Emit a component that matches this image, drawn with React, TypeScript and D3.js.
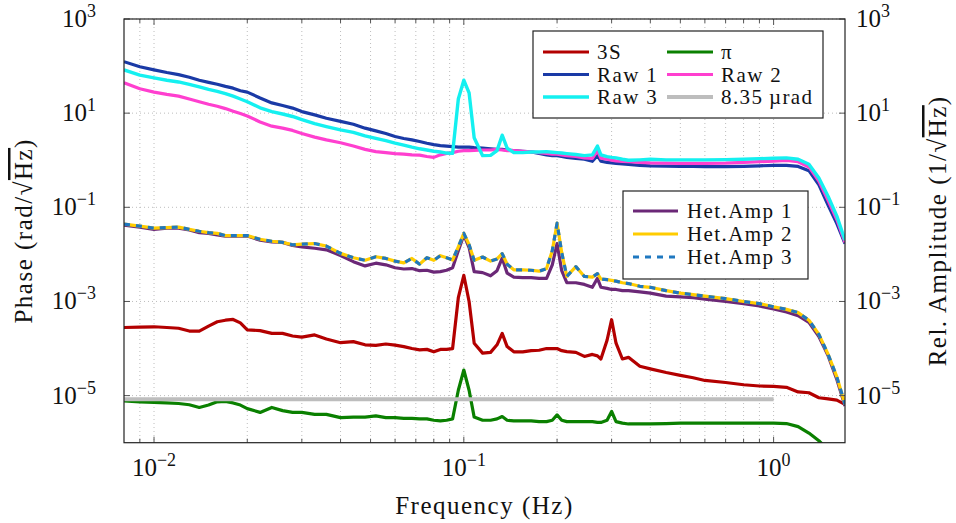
import React from 'react';
import * as d3 from 'd3';

// ---------- data ----------
const freq = [
  0.008, 0.009, 0.01, 0.011, 0.012, 0.013, 0.014, 0.015, 0.016, 0.017,
  0.018, 0.019, 0.02, 0.022, 0.024, 0.026, 0.028, 0.03, 0.033, 0.036,
  0.04, 0.044, 0.048, 0.052, 0.056, 0.06, 0.064, 0.068, 0.072, 0.076,
  0.08, 0.084, 0.088, 0.092, 0.096, 0.1, 0.104, 0.108, 0.115, 0.122,
  0.128, 0.133, 0.138, 0.145, 0.155, 0.165, 0.175, 0.185, 0.193, 0.2,
  0.207, 0.215, 0.23, 0.245, 0.26, 0.27, 0.277, 0.29, 0.3, 0.31,
  0.325, 0.34, 0.37, 0.4, 0.45, 0.5, 0.55, 0.6, 0.7, 0.8,
  0.9, 1.0, 1.1, 1.2, 1.3, 1.4, 1.5, 1.6, 1.7,
];

const s3S = [
  2.8e-4, 2.85e-4, 2.9e-4, 2.8e-4, 2.7e-4, 2.35e-4, 2.35e-4, 3.0e-4, 3.7e-4, 4.0e-4,
  4.15e-4, 3.5e-4, 2.5e-4, 2.4e-4, 2.1e-4, 2.1e-4, 1.85e-4, 1.75e-4, 1.95e-4, 1.6e-4,
  1.33e-4, 1.4e-4, 1.2e-4, 1.17e-4, 1.25e-4, 1.18e-4, 1.1e-4, 1.0e-4, 9.4e-5, 9.6e-5,
  8.5e-5, 9.6e-5, 9.6e-5, 1.0e-4, 1.2e-3, 3.6e-3, 1.0e-3, 1.3e-4, 8.0e-5, 8.3e-5,
  1.2e-4, 2.1e-4, 1.1e-4, 8.5e-5, 8.5e-5, 9.0e-5, 9.2e-5, 1.0e-4, 1.0e-4, 1.0e-4,
  9.0e-5, 8.6e-5, 8.3e-5, 6.8e-5, 7.5e-5, 7.0e-5, 6.0e-5, 1.5e-4, 4.1e-4, 1.3e-4,
  6.0e-5, 6.5e-5, 4.2e-5, 3.7e-5, 3.1e-5, 2.7e-5, 2.4e-5, 2.1e-5, 1.9e-5, 1.7e-5,
  1.6e-5, 1.57e-5, 1.5e-5, 1.2e-5, 1.15e-5, 9.0e-6, 8.5e-6, 8.0e-6, 6.5e-6,
];

const sPi = [
  7.7e-6, 7.4e-6, 7.2e-6, 7.0e-6, 6.8e-6, 6.4e-6, 5.6e-6, 6.3e-6, 7.4e-6, 7.5e-6,
  7.0e-6, 6.3e-6, 5.3e-6, 4.4e-6, 5.6e-6, 4.8e-6, 4.4e-6, 4.4e-6, 4.0e-6, 4.0e-6,
  3.4e-6, 3.5e-6, 3.5e-6, 3.7e-6, 3.4e-6, 3.4e-6, 3.3e-6, 3.3e-6, 3.2e-6, 3.2e-6,
  3.0e-6, 2.9e-6, 3.0e-6, 3.2e-6, 1.3e-5, 3.5e-5, 1.3e-5, 3.5e-6, 3.0e-6, 3.0e-6,
  3.2e-6, 3.6e-6, 3.0e-6, 2.9e-6, 2.9e-6, 2.9e-6, 2.8e-6, 2.8e-6, 3.0e-6, 3.9e-6,
  3.0e-6, 2.8e-6, 2.8e-6, 2.8e-6, 2.8e-6, 2.7e-6, 2.7e-6, 3.0e-6, 4.6e-6, 2.8e-6,
  2.6e-6, 2.5e-6, 2.5e-6, 2.5e-6, 2.55e-6, 2.6e-6, 2.6e-6, 2.6e-6, 2.6e-6, 2.6e-6,
  2.6e-6, 2.6e-6, 2.55e-6, 2.2e-6, 1.6e-6, 1.1e-6, 7.0e-7, 4.0e-7, 2.5e-7,
];

const sRaw1 = [
  124, 97, 83, 73, 66, 58, 50, 45, 41, 37,
  34, 30, 28, 21, 16.5, 14.5, 12.8, 10.8, 9.2, 7.8,
  6.7, 5.8, 4.8, 4.2, 3.7, 3.2, 2.9, 2.7, 2.5, 2.3,
  2.15, 2.05, 2.0, 1.95, 1.9, 1.9, 1.9, 1.85, 1.8, 1.75,
  1.7, 1.7, 1.65, 1.6, 1.55, 1.5, 1.4, 1.3, 1.25, 1.25,
  1.2, 1.15, 1.1, 1.05, 0.95, 1.25, 0.95, 0.9, 0.88, 0.86,
  0.84, 0.82, 0.78, 0.76, 0.75, 0.74, 0.74, 0.73, 0.73, 0.74,
  0.76, 0.78, 0.78, 0.74, 0.6, 0.3, 0.11, 0.045, 0.017,
];

const sRaw2 = [
  44, 33, 28, 25, 23, 20, 17.5, 15.5, 14, 12.5,
  11, 9.8, 8.7, 6.5, 5.3, 4.8, 4.3, 3.7, 3.1, 2.7,
  2.35, 2.0, 1.7, 1.52, 1.45, 1.38, 1.35, 1.3, 1.28, 1.2,
  1.15, 1.3, 1.4, 1.45, 1.55, 1.6, 1.6, 1.62, 1.65, 1.65,
  1.7, 1.65, 1.6, 1.6, 1.55, 1.5, 1.45, 1.4, 1.35, 1.35,
  1.3, 1.25, 1.2, 1.12, 1.1, 1.6, 1.1, 1.05, 1.0, 0.97,
  0.95, 0.93, 0.9, 0.88, 0.87, 0.86, 0.86, 0.86, 0.87, 0.9,
  0.93, 0.96, 0.99, 0.93, 0.72, 0.36, 0.14, 0.055, 0.018,
];

const sRaw3 = [
  83, 64, 56, 50, 46, 41, 36, 32, 29, 26,
  23, 20, 17.5, 13, 10.8, 9.6, 8.5, 7.3, 6.0, 5.2,
  4.4, 3.9, 3.3, 2.9, 2.6, 2.3, 2.1, 1.9, 1.75, 1.65,
  1.55, 1.5, 1.42, 1.4, 20, 50, 27, 3, 1.25, 1.27,
  1.6, 3.4, 1.8, 1.45, 1.45, 1.5, 1.5, 1.52, 1.48, 1.45,
  1.42, 1.38, 1.32, 1.25, 1.3, 2.0, 1.3, 1.19, 1.15, 1.12,
  1.05, 1.0, 1.02, 1.05, 1.02, 1.02, 1.02, 1.02, 1.03, 1.05,
  1.08, 1.1, 1.12, 1.05, 0.82, 0.42, 0.17, 0.065, 0.02,
];

const sHet1 = [
  0.042, 0.038, 0.034, 0.036, 0.036, 0.033, 0.029, 0.028, 0.026, 0.0245,
  0.0245, 0.0245, 0.0245, 0.02, 0.0185, 0.018, 0.0155, 0.0145, 0.0135, 0.0125,
  0.0095, 0.007, 0.0057, 0.0065, 0.006, 0.0052, 0.0049, 0.005, 0.0045, 0.0046,
  0.0042, 0.0043, 0.0046, 0.0052, 0.012, 0.026, 0.014, 0.0043, 0.0041, 0.0035,
  0.0045, 0.0083, 0.004, 0.0033, 0.0032, 0.0032, 0.0031, 0.0031, 0.006, 0.017,
  0.0045, 0.0025, 0.0025, 0.0023, 0.002, 0.0031, 0.002, 0.0019, 0.0018, 0.0018,
  0.0017, 0.0017, 0.0016, 0.0015, 0.0013, 0.00125, 0.0012, 0.00112, 0.001, 0.0009,
  0.0008, 0.00069, 0.0006, 0.0005, 0.00036, 0.00018, 0.00007, 0.000022, 0.000006,
];

const sHet2 = [
  0.044, 0.040, 0.036, 0.037, 0.038, 0.034, 0.031, 0.029, 0.028, 0.025,
  0.025, 0.025, 0.025, 0.021, 0.019, 0.018, 0.016, 0.0165, 0.017, 0.015,
  0.0105, 0.0085, 0.0075, 0.0089, 0.0082, 0.0072, 0.0066, 0.0082, 0.0062, 0.0085,
  0.0075, 0.0094, 0.0085, 0.0076, 0.0145, 0.028, 0.016, 0.0075, 0.0088, 0.0072,
  0.008, 0.0104, 0.0062, 0.0047, 0.0047, 0.0046, 0.0044, 0.005, 0.012, 0.046,
  0.011, 0.0034, 0.0055, 0.0034, 0.0033, 0.0039, 0.003, 0.0029, 0.0028, 0.0027,
  0.0025, 0.0024, 0.0021, 0.002, 0.0017, 0.0015, 0.0014, 0.0013, 0.00115, 0.001,
  0.0009, 0.00077, 0.00068, 0.00058, 0.0004, 0.0002, 0.000075, 0.000025, 0.0000065,
];

const sHet3 = [
  0.044, 0.040, 0.036, 0.037, 0.038, 0.034, 0.031, 0.029, 0.028, 0.025,
  0.025, 0.025, 0.025, 0.021, 0.019, 0.018, 0.016, 0.0165, 0.017, 0.015,
  0.0105, 0.0085, 0.0075, 0.0089, 0.0082, 0.0072, 0.0066, 0.0082, 0.0062, 0.0085,
  0.0075, 0.0094, 0.0085, 0.0076, 0.0145, 0.028, 0.016, 0.0075, 0.0088, 0.0072,
  0.008, 0.0104, 0.0062, 0.0047, 0.0047, 0.0046, 0.0044, 0.005, 0.012, 0.046,
  0.011, 0.0034, 0.0055, 0.0034, 0.0033, 0.0039, 0.003, 0.0029, 0.0028, 0.0027,
  0.0025, 0.0024, 0.0021, 0.002, 0.0017, 0.0015, 0.0014, 0.0013, 0.00115, 0.001,
  0.0009, 0.00077, 0.00068, 0.00058, 0.0004, 0.0002, 0.000075, 0.000025, 0.0000065,
];

const refFreq = [0.008, 1.0];
const refVals = [8.35e-6, 8.35e-6];

const yTickVals = [1e-5, 1e-3, 1e-1, 1e1, 1e3];
const xMajorTicks = [0.01, 0.1, 1];

// ---------- layout ----------
const W = 956;
const H = 523;
const PL = 124, PR = 845, PT = 19, PB = 442.7;
const FONT = 'Liberation Serif, DejaVu Serif, serif';

const x = d3.scaleLog().domain([0.008, 1.7]).range([PL, PR]);
const y = d3.scaleLog().domain([1e-6, 1e3]).range([PB, PT]);

type Style = { name: string; color: string; width: number; dash?: string };

const series: { f: number[]; v: number[]; s: Style }[] = [
  { f: freq, v: s3S, s: { name: '3S', color: '#b30000', width: 3.2 } },
  { f: freq, v: sPi, s: { name: 'π', color: '#0a8000', width: 3.2 } },
  { f: freq, v: sRaw1, s: { name: 'Raw 1', color: '#1a3aa6', width: 3.2 } },
  { f: freq, v: sRaw2, s: { name: 'Raw 2', color: '#ff3fcf', width: 3.2 } },
  { f: freq, v: sRaw3, s: { name: 'Raw 3', color: '#14f0f0', width: 3.4 } },
  { f: refFreq, v: refVals, s: { name: '8.35\u2009µrad', color: '#bdbdbd', width: 4 } },
  { f: freq, v: sHet1, s: { name: 'Het.Amp 1', color: '#6b2877', width: 3.2 } },
  { f: freq, v: sHet2, s: { name: 'Het.Amp 2', color: '#ffcc00', width: 3.2 } },
  { f: freq, v: sHet3, s: { name: 'Het.Amp 3', color: '#1f78c0', width: 3.2, dash: '6 6' } },
];

const legend1 = [0, 1, 2, 3, 4, 5];
const legend2 = [6, 7, 8];

function expLabel(v: number) {
  const e = Math.round(Math.log10(v));
  return e < 0 ? '\u2212' + Math.abs(e) : String(e);
}

function Pow({ v, ...rest }: any) {
  return (
    <text {...rest}>
      <tspan>10</tspan>
      <tspan dy={-10} fontSize={18}>{expLabel(v)}</tspan>
    </text>
  );
}

export default function App() {
  const line = d3
    .line<[number, number]>()
    .x((d) => x(d[0]))
    .y((d) => y(d[1]));

  const xAll: number[] = [];
  [0.001, 0.01, 0.1, 1].forEach((dec) => {
    for (let k = 1; k <= 9; k++) {
      const v = +(k * dec).toPrecision(3);
      if (v > 0.0081 && v < 1.69) xAll.push(v);
    }
  });
  const isMajor = (v: number) => xMajorTicks.some((m) => Math.abs(m - v) < 1e-9);

  const gridColor = '#bdbdbd';
  const axisColor = '#222';

  return (
    <svg
      width={W}
      height={H}
      style={{ position: 'absolute', left: 0, top: 0, background: '#fff' }}
      fontFamily={FONT}
    >
      <defs>
        <clipPath id="plotclip">
          <rect x={PL} y={PT} width={PR - PL} height={PB - PT} />
        </clipPath>
      </defs>

      {/* grid */}
      <g stroke={gridColor} strokeWidth={1} strokeDasharray="1 3">
        {xAll.map((v) => (
          <line key={'gx' + v} x1={x(v)} x2={x(v)} y1={PT} y2={PB} />
        ))}
        {yTickVals.map((v) => (
          <line key={'gy' + v} x1={PL} x2={PR} y1={y(v)} y2={y(v)} />
        ))}
      </g>

      {/* series */}
      <g clipPath="url(#plotclip)" fill="none" strokeLinejoin="round" strokeLinecap="butt">
        {series.map((s, i) => (
          <path
            key={i}
            d={line(s.f.map((f, j) => [f, s.v[j]] as [number, number])) || ''}
            stroke={s.s.color}
            strokeWidth={s.s.width}
            strokeDasharray={s.s.dash}
          />
        ))}
      </g>

      {/* ticks */}
      <g stroke="#555" strokeWidth={1}>
        {xAll.map((v) => {
          const len = isMajor(v) ? 6 : 4;
          return (
            <g key={'tx' + v}>
              <line x1={x(v)} x2={x(v)} y1={PB} y2={PB - len} />
              <line x1={x(v)} x2={x(v)} y1={PT} y2={PT + len} />
            </g>
          );
        })}
        {yTickVals.map((v) => (
          <g key={'ty' + v}>
            <line x1={PL} x2={PL + 6} y1={y(v)} y2={y(v)} />
            <line x1={PR} x2={PR - 6} y1={y(v)} y2={y(v)} />
          </g>
        ))}
      </g>

      {/* frame */}
      <rect x={PL} y={PT} width={PR - PL} height={PB - PT} fill="none" stroke={axisColor} strokeWidth={1.2} />

      {/* tick labels */}
      <g fill="#111" fontSize={25}>
        {xMajorTicks.map((v) => (
          <Pow key={'lx' + v} v={v} x={x(v)} y={476} textAnchor="middle" />
        ))}
        {yTickVals.map((v) => (
          <Pow key={'ly' + v} v={v} x={96} y={y(v) + 8} textAnchor="end" />
        ))}
        {yTickVals.map((v) => (
          <Pow key={'ry' + v} v={v} x={856} y={y(v) + 8} textAnchor="start" />
        ))}
      </g>

      {/* axis titles */}
      <g fill="#111" fontSize={25} letterSpacing={1.5}>
        <text x={(PL + PR) / 2} y={514} textAnchor="middle">Frequency (Hz)</text>
        <text transform={`translate(32,${(PT + PB) / 2}) rotate(-90)`} textAnchor="middle">
          Phase (rad/
          <tspan>√</tspan>
          <tspan style={{ textDecoration: 'overline' }}>Hz</tspan>)
        </text>
        <text transform={`translate(946,${(PT + PB) / 2}) rotate(-90)`} textAnchor="middle">
          Rel. Amplitude (1/
          <tspan>√</tspan>
          <tspan style={{ textDecoration: 'overline' }}>Hz</tspan>)
        </text>
      </g>

      {/* legend 1 */}
      <g>
        <rect x={533} y={31} width={290} height={87} fill="#fff" stroke={axisColor} strokeWidth={1.2} />
        {legend1.map((idx, k) => {
          const col = k % 2;
          const row = Math.floor(k / 2);
          const ly = 52 + row * 22.5;
          const lx = col === 0 ? 543 : 667;
          const s = series[idx].s;
          return (
            <g key={'l1' + k}>
              <line x1={lx} x2={lx + 46} y1={ly} y2={ly} stroke={s.color} strokeWidth={s.width} strokeDasharray={s.dash} />
              <text x={lx + 54} y={ly + 7} fontSize={21} letterSpacing={1.4} fill="#111">{s.name}</text>
            </g>
          );
        })}
      </g>

      {/* legend 2 */}
      <g>
        <rect x={623} y={191} width={185} height={88} fill="#fff" stroke={axisColor} strokeWidth={1.2} />
        {legend2.map((idx, k) => {
          const ly = 211 + k * 23;
          const s = series[idx].s;
          return (
            <g key={'l2' + k}>
              <line x1={633} x2={678} y1={ly} y2={ly} stroke={s.color} strokeWidth={s.width} strokeDasharray={s.dash} />
              <text x={687} y={ly + 7} fontSize={21} letterSpacing={1.4} fill="#111">{s.name}</text>
            </g>
          );
        })}
      </g>
    </svg>
  );
}
